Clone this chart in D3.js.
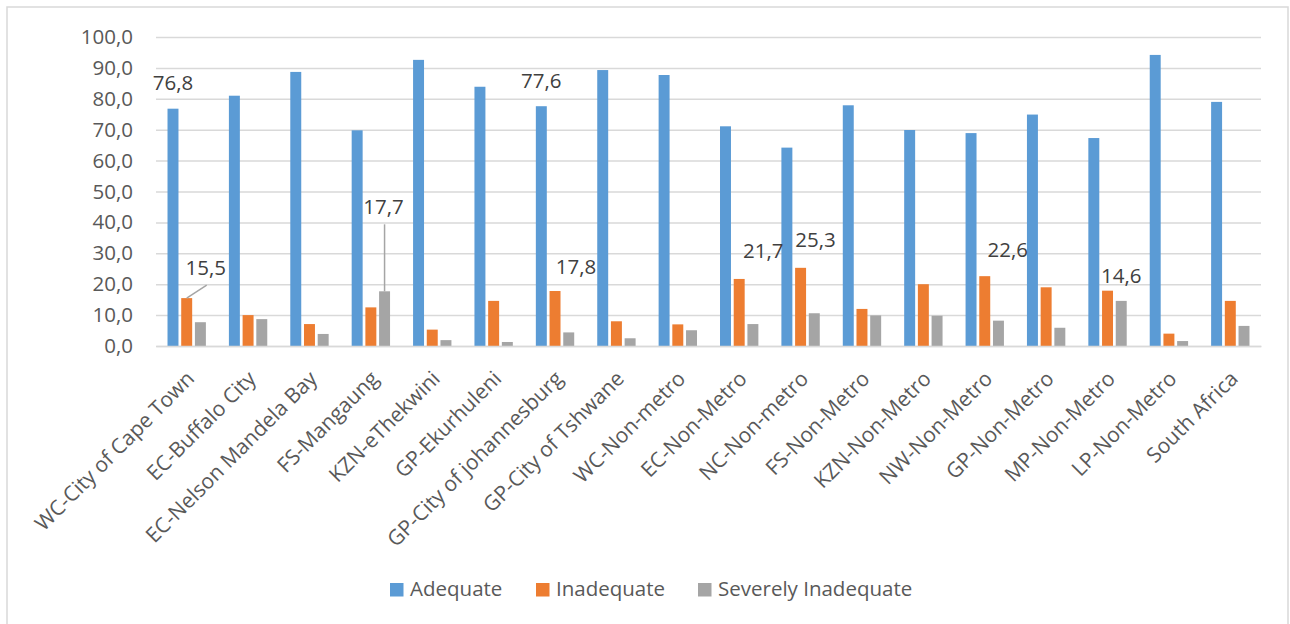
<!DOCTYPE html>
<html>
<head>
<meta charset="utf-8">
<script src="https://cdn.jsdelivr.net/npm/d3@7"></script>
<style>
  html, body { margin: 0; padding: 0; background: #fff; }
  svg { display: block; font-family: "Open Sans", sans-serif; }
</style>
</head>
<body>
<svg id="chart" width="1290" height="624"></svg>
<script>
// Housing adequacy by metro / non-metro area (%)
const categories = [
  "WC-City of Cape Town", "EC-Buffalo City", "EC-Nelson Mandela Bay", "FS-Mangaung",
  "KZN-eThekwini", "GP-Ekurhuleni", "GP-City of johannesburg", "GP-City of Tshwane",
  "WC-Non-metro", "EC-Non-Metro", "NC-Non-metro", "FS-Non-Metro", "KZN-Non-Metro",
  "NW-Non-Metro", "GP-Non-Metro", "MP-Non-Metro", "LP-Non-Metro", "South Africa"
];
const seriesNames = ["Adequate", "Inadequate", "Severely Inadequate"];
const adequate   = [76.8, 81.0, 88.7, 69.8, 92.6, 83.9, 77.6, 89.3, 87.7, 71.1, 64.2, 77.9, 69.9, 68.9, 74.9, 67.3, 94.2, 79.0];
const inadequate = [15.5, 10.0, 7.1, 12.5, 5.3, 14.6, 17.8, 8.0, 7.0, 21.7, 25.3, 12.0, 20.0, 22.6, 19.0, 17.9, 4.0, 14.6];
const severe     = [7.7, 8.7, 3.9, 17.7, 1.9, 1.3, 4.4, 2.5, 5.1, 7.1, 10.6, 9.9, 9.8, 8.2, 5.9, 14.6, 1.6, 6.5];
const yTicks = [0, 10, 20, 30, 40, 50, 60, 70, 80, 90, 100];

// Which bars carry a value label (category index, series index)
const labelledBars = [[0, 0], [0, 1], [3, 2], [6, 0], [6, 1], [9, 1], [10, 1], [13, 1], [15, 2]];
// Label placement relative to the bar's top centre; leader marks a connecting line
const labelPlacement = [
  { dx: 0,   dy: -26, leader: false },
  { dx: 19,  dy: -30, leader: true },
  { dx: -1,  dy: -84, leader: true },
  { dx: 0,   dy: -25, leader: false },
  { dx: 21,  dy: -24, leader: false },
  { dx: 24,  dy: -28, leader: false },
  { dx: 15,  dy: -28, leader: false },
  { dx: 23,  dy: -26, leader: false },
  { dx: 0,   dy: -25, leader: false }
];

const seriesValues = [adequate, inadequate, severe];
const colors = ["#5B9BD5", "#ED7D31", "#A5A5A5"];
const fmt = v => v.toFixed(1).replace(".", ",");

const svg = d3.select("#chart");
const margin = { left: 156, right: 1261, top: 37, bottom: 346 };

// outer frame
svg.append("rect")
  .attr("x", 7).attr("y", 7).attr("width", 1281).attr("height", 640)
  .attr("fill", "none").attr("stroke", "#d9d9d9").attr("stroke-width", 1.5);

const y = d3.scaleLinear().domain([0, 100]).range([margin.bottom, margin.top]);
const x0 = d3.scaleBand().domain(categories).range([margin.left, margin.right]).padding(0);
const x1 = d3.scaleBand().domain(seriesNames).range([0, x0.bandwidth()])
  .paddingInner(0.2).paddingOuter(0.84);

// gridlines + y labels
const yAxis = d3.axisLeft(y).tickValues(yTicks).tickFormat(fmt)
  .tickSize(-(margin.right - margin.left)).tickPadding(23);
const gy = svg.append("g").attr("transform", `translate(${margin.left},0)`).call(yAxis);
gy.select(".domain").remove();
gy.selectAll(".tick line").attr("stroke", "#d9d9d9").attr("stroke-width", 1.5);
gy.selectAll(".tick text")
  .attr("fill", "#595959").attr("font-size", 20.5)
  .attr("font-family", "'Open Sans', sans-serif")
  .attr("dy", "0.32em");

// bars
const groups = svg.append("g").selectAll("g")
  .data(categories)
  .join("g")
  .attr("transform", d => `translate(${x0(d)},0)`);

groups.selectAll("rect")
  .data((d, i) => seriesNames.map((s, k) => ({ s, k, v: seriesValues[k][i] })))
  .join("rect")
  .attr("x", d => x1(d.s))
  .attr("width", x1.bandwidth())
  .attr("y", d => y(d.v))
  .attr("height", d => y(0) - y(d.v))
  .attr("fill", d => colors[d.k]);

// category axis labels
const xAxis = d3.axisBottom(x0).tickSize(0).tickPadding(0);
const gx = svg.append("g").attr("transform", `translate(0,${margin.bottom})`).call(xAxis);
gx.select(".domain").attr("stroke", "#d9d9d9").attr("stroke-width", 1.5);
gx.selectAll(".tick text")
  .attr("fill", "#595959").attr("font-size", 21)
  .attr("font-family", "'Open Sans', sans-serif")
  .attr("text-anchor", "end")
  .attr("x", 0).attr("y", 0).attr("dy", 0)
  .attr("transform", "translate(9,34) rotate(-45)");

// value labels
const lab = svg.append("g");
labelledBars.forEach(([ci, si], j) => {
  const v = seriesValues[si][ci];
  const bx = x0(categories[ci]) + x1(seriesNames[si]) + x1.bandwidth() / 2;
  const by = y(v);
  const p = labelPlacement[j];
  const lx = bx + p.dx, ly = by + p.dy;
  if (p.leader) {
    const ex = Math.abs(p.dx) < 3 ? bx : lx + 1;
    lab.append("line").attr("x1", bx).attr("y1", by).attr("x2", ex).attr("y2", ly + 17)
      .attr("stroke", "#a5a5a5").attr("stroke-width", 1.5);
  }
  lab.append("text")
    .attr("x", lx).attr("y", ly + 7)
    .attr("text-anchor", "middle")
    .attr("fill", "#404040").attr("font-size", 20.5)
    .text(fmt(v));
});

// legend
const legendX = [390, 536, 698];
const leg = svg.append("g");
seriesNames.forEach((s, k) => {
  leg.append("rect").attr("x", legendX[k]).attr("y", 583).attr("width", 13.5).attr("height", 13.5)
    .attr("fill", colors[k]);
  leg.append("text").attr("x", legendX[k] + 20).attr("y", 596)
    .attr("fill", "#595959").attr("font-size", 20.5).text(s);
});
</script>
</body>
</html>
